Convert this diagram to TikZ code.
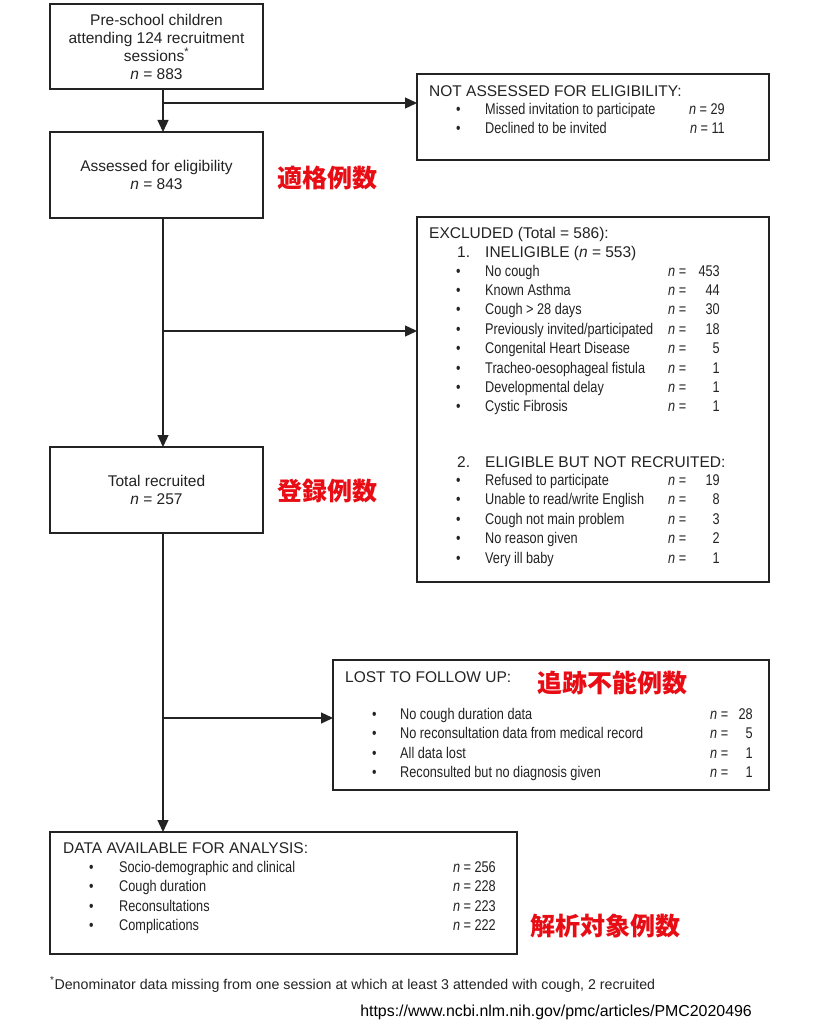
\documentclass[tikz,border=0pt]{standalone}
\usepackage{fontspec}
\setmainfont{Liberation Sans}
\newfontfamily\narrowfont{Liberation Sans}[FakeStretch=0.82]
\newfontfamily\cjkfont{Noto Sans CJK JP}
\usetikzlibrary{arrows.meta}
\definecolor{jred}{RGB}{232,12,20}
\definecolor{ink}{RGB}{35,35,35}
\begin{document}
\begin{tikzpicture}[x=1pt,y=-1pt,
  box/.style={draw=ink, line width=1.6pt, inner sep=0pt, outer sep=0pt},
  arr/.style={draw=ink, line width=1.3pt, -{Triangle[length=12pt,width=11pt]}},
  big/.style={font=\fontsize{15.5}{18}\selectfont, text=ink},
  lbl/.style={big, inner sep=0pt, anchor=base west},
  item/.style={font=\narrowfont\fontsize{15.5}{18}\selectfont, text=ink, inner sep=0pt, anchor=base west},
  num/.style={item, anchor=base east},
  jp/.style={font=\cjkfont\bfseries\fontsize{25}{27}\selectfont, text=jred, inner sep=0pt, anchor=west}
]
\useasboundingbox (0,0) rectangle (819,1024);
\fill[white] (0,0) rectangle (819,1024);

% main column boxes
\node[box, big, align=center, minimum width=213pt, minimum height=85pt] (b1) at (156.5,46.5)
  {Pre-school children\\attending 124 recruitment\\sessions\textsuperscript{*}\\\textit{n} = 883};
\node[box, big, align=center, minimum width=213pt, minimum height=86pt] (b2) at (156.5,175)
  {Assessed for eligibility\\\textit{n} = 843};
\node[box, big, align=center, minimum width=213pt, minimum height=86pt] (b3) at (156.5,490)
  {Total recruited\\\textit{n} = 257};

% side boxes
\node[box, minimum width=352pt, minimum height=86pt] (na) at (593,117) {};
\node[box, minimum width=352pt, minimum height=365pt] (ex) at (593,399.5) {};
\node[box, minimum width=436pt, minimum height=130pt] (lost) at (551,725) {};
\node[box, minimum width=467pt, minimum height=122pt] (data) at (283.5,893) {};

% connectors
\coordinate (t) at (163,0);
\coordinate (j1) at (163,103);
\coordinate (j2) at (163,331);
\coordinate (j3) at (163,718);
\draw[arr] (b1.south -| t) -- (b2.north -| t);
\draw[arr] (j1) -- (j1 -| na.west);
\draw[arr] (b2.south -| t) -- (b3.north -| t);
\draw[arr] (j2) -- (j2 -| ex.west);
\draw[arr] (b3.south -| t) -- (data.north -| t);
\draw[arr] (j3) -- (j3 -| lost.west);

% NOT ASSESSED
\node[lbl] (na-t) at (429,96.5) {NOT ASSESSED FOR ELIGIBILITY:};
\foreach \y/\txt/\v [count=\i] in {115/{Missed invitation to participate}/29, 133.5/{Declined to be invited}/11}{
  \node[item] (na-b\i) at (456,\y) {•};
  \node[item] (na-i\i) at (485,\y) {\txt};
  \node[num] (na-v\i) at (725,\y) {\textit{n} = \v};
}

% EXCLUDED
\node[lbl] (ex-t) at (429,239) {EXCLUDED (Total = 586):};
\node[lbl] (ex-1) at (457,257.5) {1.};
\node[lbl] (ex-1t) at (485,257.5) {INELIGIBLE (\textit{n} = 553)};
\foreach \y/\txt/\v [count=\i] in {
  276/{No cough}/453,
  295.4/{Known Asthma}/44,
  314.8/{Cough > 28 days}/30,
  334.2/{Previously invited/participated}/18,
  353.6/{Congenital Heart Disease}/5,
  373/{Tracheo-oesophageal fistula}/1,
  392.4/{Developmental delay}/1,
  411.8/{Cystic Fibrosis}/1}{
  \node[item] (ex-b\i) at (456,\y) {•};
  \node[item] (ex-i\i) at (485,\y) {\txt};
  \node[item] (ex-n\i) at (668,\y) {\textit{n} =};
  \node[num] (ex-v\i) at (720,\y) {\v};
}
\node[lbl] (ex-2) at (457,467) {2.};
\node[lbl] (ex-2t) at (485,467) {ELIGIBLE BUT NOT RECRUITED:};
\foreach \y/\txt/\v [count=\i] in {
  485.5/{Refused to participate}/19,
  504.9/{Unable to read/write English}/8,
  524.3/{Cough not main problem}/3,
  543.7/{No reason given}/2,
  563.1/{Very ill baby}/1}{
  \node[item] (ey-b\i) at (456,\y) {•};
  \node[item] (ey-i\i) at (485,\y) {\txt};
  \node[item] (ey-n\i) at (668,\y) {\textit{n} =};
  \node[num] (ey-v\i) at (720,\y) {\v};
}

% LOST TO FOLLOW UP
\node[lbl] (lo-t) at (345,682) {LOST TO FOLLOW UP:};
\foreach \y/\txt/\v [count=\i] in {
  719/{No cough duration data}/28,
  738.5/{No reconsultation data from medical record}/5,
  758/{All data lost}/1,
  777.5/{Reconsulted but no diagnosis given}/1}{
  \node[item] (lo-b\i) at (372,\y) {•};
  \node[item] (lo-i\i) at (400,\y) {\txt};
  \node[item] (lo-n\i) at (710,\y) {\textit{n} =};
  \node[num] (lo-v\i) at (753,\y) {\v};
}

% DATA AVAILABLE
\node[lbl] (da-t) at (63,853) {DATA AVAILABLE FOR ANALYSIS:};
\foreach \y/\txt/\v [count=\i] in {
  872/{Socio-demographic and clinical}/256,
  891.5/{Cough duration}/228,
  911/{Reconsultations}/223,
  930.5/{Complications}/222}{
  \node[item] (da-b\i) at (89,\y) {•};
  \node[item] (da-i\i) at (119,\y) {\txt};
  \node[num] (da-v\i) at (496,\y) {\textit{n} = \v};
}

% red annotations
\node[jp] (r1) at (277,178) {適格例数};
\node[jp] (r2) at (277,491) {登録例数};
\node[jp] (r3) at (537,683) {追跡不能例数};
\node[jp] (r4) at (530,926) {解析対象例数};

% footnote and source
\node[lbl, font=\fontsize{14.2}{17}\selectfont] (fn) at (50,989)
  {\textsuperscript{*}Denominator data missing from one session at which at least 3 attended with cough, 2 recruited};
\node[inner sep=0pt, anchor=base east, font=\fontsize{15.9}{18}\selectfont, text=black] (url) at (752,1016)
  {https://www.ncbi.nlm.nih.gov/pmc/articles/PMC2020496};
\end{tikzpicture}
\end{document}
